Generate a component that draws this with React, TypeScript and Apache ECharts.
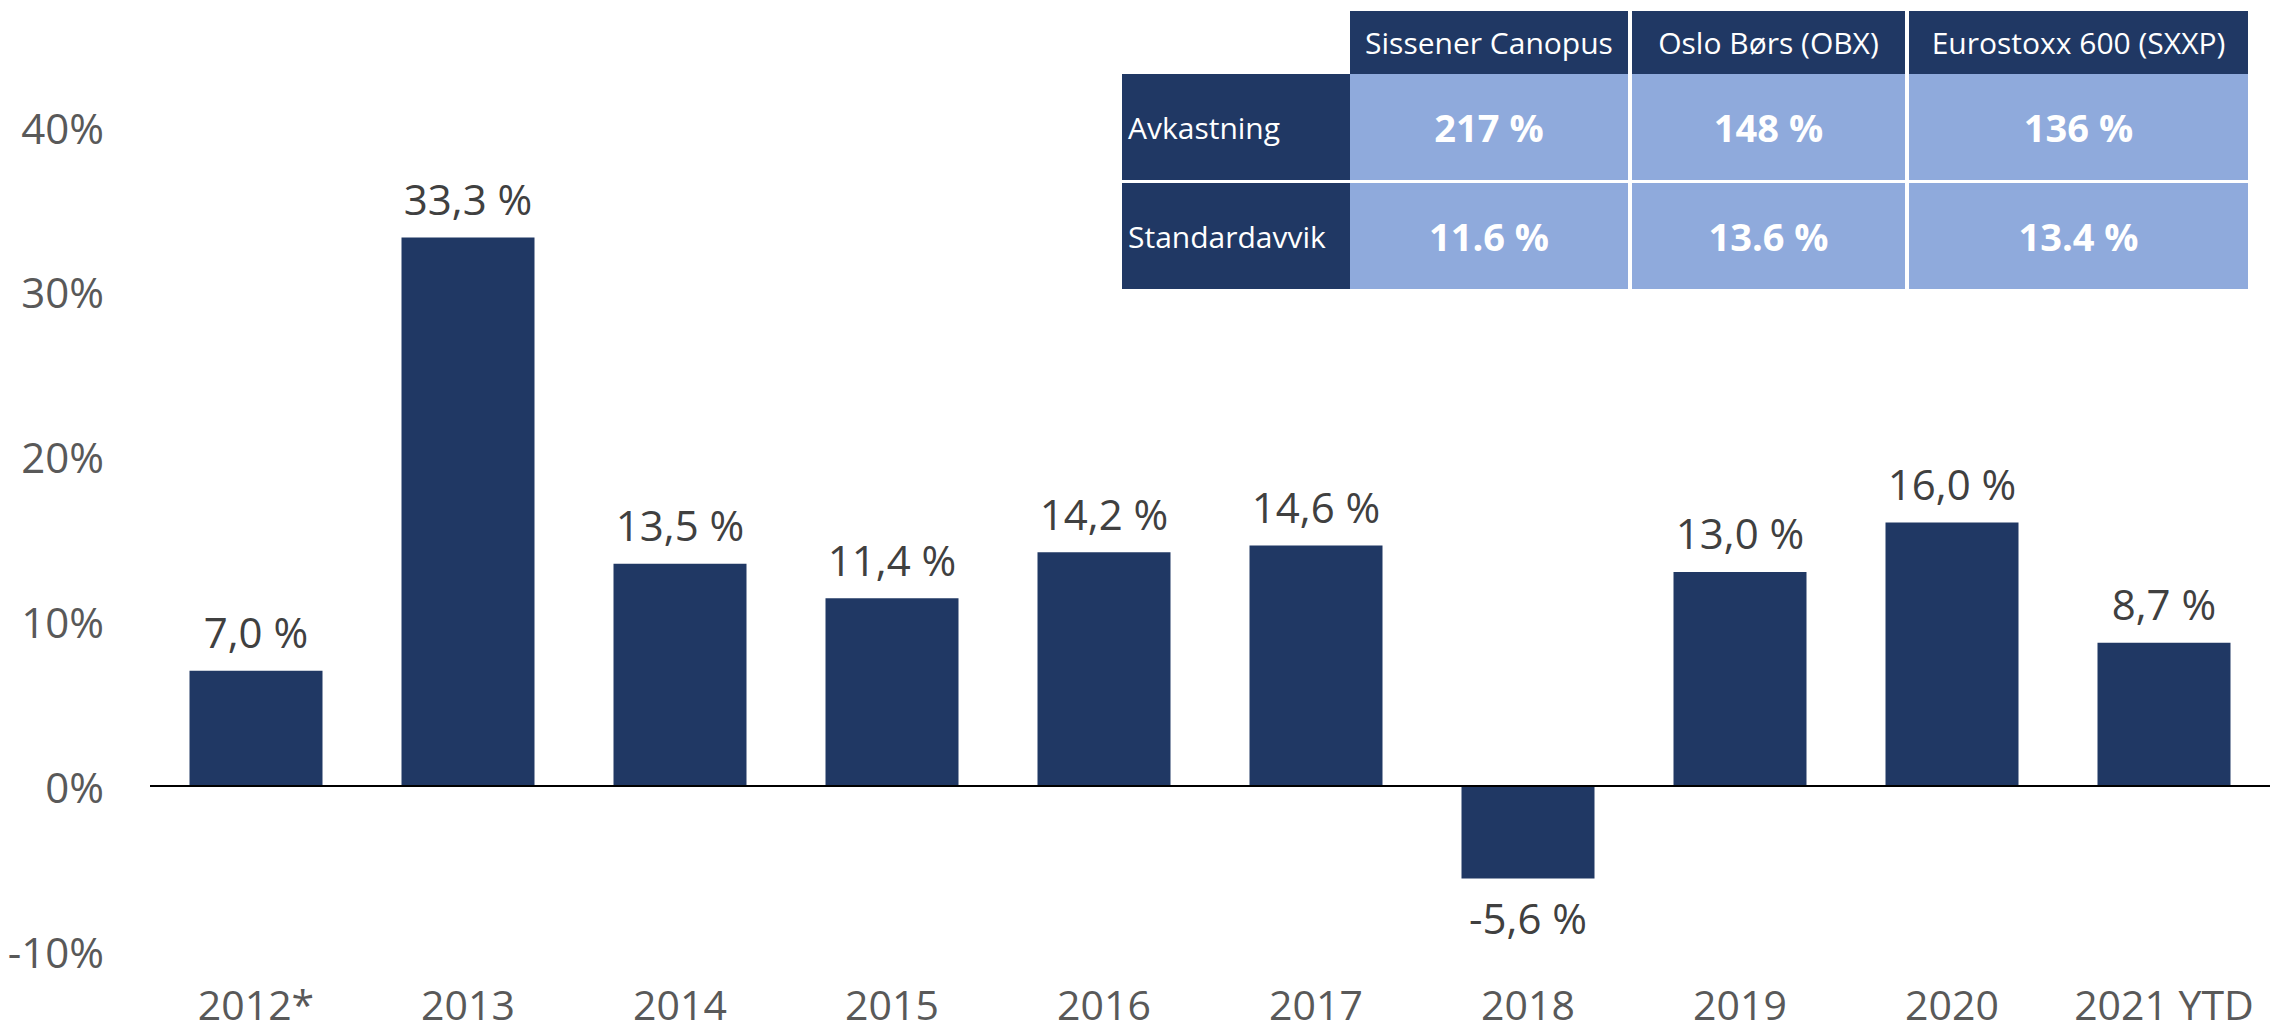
import React, { useEffect, useRef } from "react";
import * as echarts from "echarts";

const categories = ["2012*", "2013", "2014", "2015", "2016", "2017", "2018", "2019", "2020", "2021 YTD"];
const returns = [7.0, 33.3, 13.5, 11.4, 14.2, 14.6, -5.6, 13.0, 16.0, 8.7];

const tableColumns = ["Sissener Canopus", "Oslo Børs (OBX)", "Eurostoxx 600 (SXXP)"];
const tableRowLabels = ["Avkastning", "Standardavvik"];
const tableValues = [
  ["217 %", "148 %", "136 %"],
  ["11.6 %", "13.6 %", "13.4 %"],
];

const NAVY = "#203864";
const LIGHT = "#8FAADC";
const FONT = "'Open Sans', 'Noto Sans', sans-serif";

function buildTable() {
  const labelLeft = 1122;
  const colEdges = [
    [1350, 1628],
    [1632, 1905],
    [1909, 2248],
  ];
  const headerTop = 11;
  const headerBottom = 74;
  const rowEdges = [
    [74, 180],
    [183, 289],
  ];
  const els: any[] = [];
  colEdges.forEach(([l, r], i) => {
    els.push({ type: "rect", shape: { x: l, y: headerTop, width: r - l, height: headerBottom - headerTop }, style: { fill: NAVY } });
    els.push({
      type: "text",
      x: (l + r) / 2,
      y: (headerTop + headerBottom) / 2,
      style: { text: tableColumns[i], fill: "#ffffff", fontSize: 30, fontFamily: FONT, align: "center", verticalAlign: "middle" },
    });
  });
  rowEdges.forEach(([t, b], ri) => {
    els.push({ type: "rect", shape: { x: labelLeft, y: t, width: colEdges[0][0] - labelLeft, height: b - t }, style: { fill: NAVY } });
    els.push({
      type: "text",
      x: labelLeft + 6,
      y: (t + b) / 2,
      style: { text: tableRowLabels[ri], fill: "#ffffff", fontSize: 30, fontFamily: FONT, align: "left", verticalAlign: "middle" },
    });
    colEdges.forEach(([l, r], ci) => {
      els.push({ type: "rect", shape: { x: l, y: t, width: r - l, height: b - t }, style: { fill: LIGHT } });
      els.push({
        type: "text",
        x: (l + r) / 2,
        y: (t + b) / 2,
        style: { text: tableValues[ri][ci], fill: "#ffffff", fontSize: 38, fontWeight: "bold", fontFamily: FONT, align: "center", verticalAlign: "middle" },
      });
    });
  });
  return els;
}

export default function App() {
  const ref = useRef<HTMLDivElement>(null);
  useEffect(() => {
    if (!ref.current) return;
    const chart = echarts.init(ref.current, null, { renderer: "svg" });
    const fmt = (v: number) => v.toFixed(1).replace(".", ",") + " %";
    chart.setOption({
      animation: false,
      backgroundColor: "#ffffff",
      grid: { left: 150, right: 0, top: 127, bottom: 83, containLabel: false },
      xAxis: {
        type: "category",
        data: categories,
        axisLine: { show: false, onZero: false },
        axisTick: { show: false },
        axisLabel: { color: "#595959", fontSize: 41, lineHeight: 30, fontFamily: FONT, margin: 38, interval: 0, hideOverlap: false },
        splitLine: { show: false },
      },
      yAxis: {
        type: "value",
        min: -10,
        max: 40,
        interval: 10,
        axisLine: { show: false },
        axisTick: { show: false },
        splitLine: { show: false },
        axisLabel: { color: "#595959", fontSize: 42, fontFamily: FONT, margin: 46, formatter: (v: number) => `${v}%` },
      },
      series: [
        {
          type: "bar",
          barWidth: 133,
          data: returns.map((v) => (v < 0 ? { value: v, label: { position: "bottom" } } : v)),
          itemStyle: { color: NAVY },
          label: {
            show: true,
            position: "top",
            distance: 18,
            color: "#404040",
            fontSize: 42,
            fontFamily: FONT,
            formatter: (p: any) => fmt(p.value),
          },
          markLine: {
            silent: true,
            symbol: ["none", "none"],
            label: { show: false },
            lineStyle: { color: "#000000", width: 2, type: "solid" },
            data: [{ yAxis: 0 }],
          },
        },
      ],
      graphic: buildTable(),
    });
    return () => chart.dispose();
  }, []);
  return <div ref={ref} style={{ position: "fixed", left: 0, top: 0, width: 2270, height: 1034 }} />;
}
